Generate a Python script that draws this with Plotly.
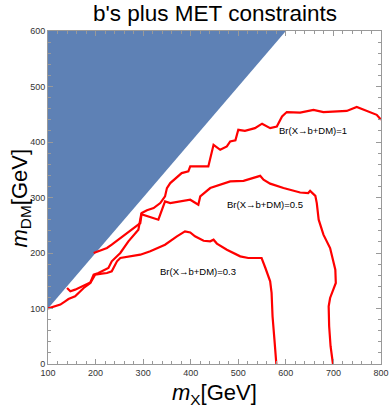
import plotly.graph_objects as go

# excluded region (m_DM > m_X)
excl_x = [100, 600, 100]
excl_y = [100, 600, 600]

# Br(X->b+DM)=1 contour
br1_x = [196, 206, 224, 234, 245, 266, 276, 294, 297, 308, 322, 336, 346, 350, 357,
         381, 395, 399, 437, 441, 448, 462, 476, 483, 494, 500, 514, 535, 550, 567,
         581, 592, 602, 630, 658, 679, 728, 749, 791, 800]
br1_y = [200, 203, 209, 215, 222, 236, 242, 254, 272, 277, 281, 290, 302, 317, 326,
         344, 347, 356, 356, 370, 395, 386, 392, 401, 403, 422, 420, 425, 433, 425,
         428, 446, 454, 453, 458, 454, 456, 463, 449, 440]

# Br(X->b+DM)=0.5 contour
br05_x = [140, 147, 157, 171, 189, 196, 206, 227, 234, 252, 269, 290, 296, 332, 346,
          357, 378, 399, 416, 420, 441, 462, 483, 511, 532, 546, 553, 567, 595, 630,
          647, 651, 662, 665, 669, 679, 693, 704, 705, 693, 690, 691, 694, 699]
br05_y = [137, 131, 134, 140, 147, 161, 164, 173, 185, 200, 221, 242, 270, 260, 293,
          290, 293, 296, 287, 302, 317, 323, 329, 330, 335, 339, 332, 325, 317, 309,
          308, 312, 303, 290, 260, 233, 209, 170, 146, 119, 104, 68, 32, 0]

# Br(X->b+DM)=0.3 contour
br03_x = [100, 112, 126, 136, 143, 157, 164, 175, 189, 199, 213, 224, 234, 245, 252,
          270, 294, 315, 346, 371, 388, 399, 409, 427, 441, 448, 455, 476, 504, 521,
          549, 557, 567, 570, 572, 576, 580]
br03_y = [100, 103, 107, 113, 117, 122, 128, 137, 146, 161, 163, 164, 167, 185, 191,
          194, 197, 203, 215, 230, 239, 237, 230, 222, 221, 224, 217, 206, 194, 191,
          191, 173, 149, 128, 86, 44, 0]

labels = ["Br(X→b+DM)=1", "Br(X→b+DM)=0.5", "Br(X→b+DM)=0.3"]
label_x = [658, 557, 416]
label_y = [420, 288, 167]

W, H = 389, 408
ML, MR, MT, MB = 48, 8, 31, 44

fig = go.Figure()

fig.add_trace(go.Scatter(x=excl_x, y=excl_y, fill="toself", mode="lines",
                         line=dict(width=0), fillcolor="rgb(94,129,181)",
                         hoverinfo="skip"))

for xs, ys in [(br1_x, br1_y), (br05_x, br05_y), (br03_x, br03_y)]:
    fig.add_trace(go.Scatter(x=xs, y=ys, mode="lines",
                             line=dict(color="rgb(255,0,0)", width=2.2)))

for t, lx, ly in zip(labels, label_x, label_y):
    fig.add_annotation(x=lx, y=ly, text=t, showarrow=False,
                       font=dict(size=9.5, color="black", family="Liberation Sans"))

# title and axis titles placed in pixels
pw, ph = W - ML - MR, H - MT - MB
fig.add_annotation(text="b's plus MET constraints", xref="paper", yref="paper",
                   x=0.5, y=1 + (MT - 14) / ph, yanchor="middle", showarrow=False,
                   font=dict(size=22.5, color="black", family="Liberation Sans"))
fig.add_annotation(text="<i>m</i><sub>X</sub>[GeV]", xref="paper", yref="paper",
                   x=0.5, y=-(394 - (H - MB)) / ph, yanchor="middle", showarrow=False,
                   font=dict(size=22, color="black", family="Liberation Sans"))
fig.add_annotation(text="<i>m</i><sub>DM</sub>[GeV]", xref="paper", yref="paper",
                   x=-(ML - 20) / pw, y=0.5, xanchor="center", yanchor="middle",
                   textangle=-90, showarrow=False,
                   font=dict(size=22, color="black", family="Liberation Sans"))

axis_common = dict(showgrid=False, zeroline=False, showline=True, linecolor="#999",
                   linewidth=1, mirror="ticks", ticks="inside", ticklen=5,
                   tickcolor="#999", automargin=False,
                   tickfont=dict(size=9, color="#333", family="Liberation Sans"))

fig.update_xaxes(range=[100, 800], dtick=100, tick0=0,
                 minor=dict(dtick=20, ticks="inside", ticklen=3, tickcolor="#999"),
                 **axis_common)
fig.update_yaxes(range=[0, 600], dtick=100, tick0=0,
                 minor=dict(dtick=20, ticks="inside", ticklen=3, tickcolor="#999"),
                 **axis_common)

fig.update_layout(
    width=W, height=H,
    margin=dict(l=ML, r=MR, t=MT, b=MB),
    paper_bgcolor="white", plot_bgcolor="white",
    showlegend=False,
)

fig.write_html("out.html", config={"displayModeBar": False},
               post_script="document.body.style.margin='0';document.body.style.overflow='hidden';")
